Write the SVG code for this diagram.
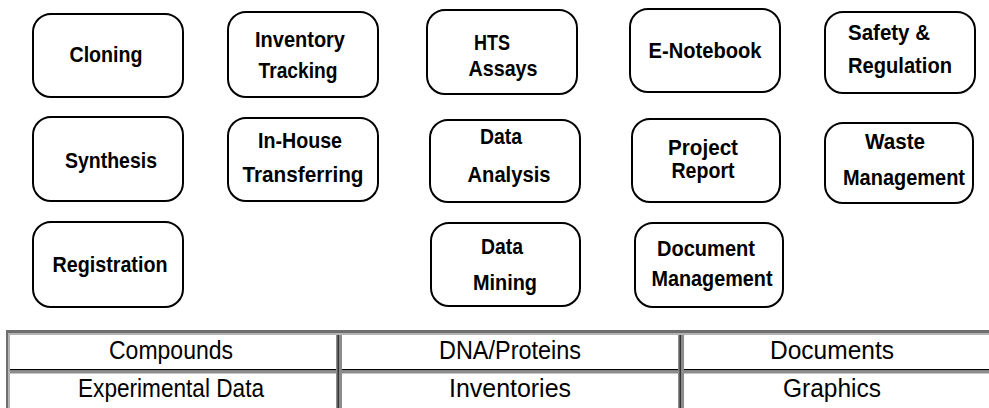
<svg xmlns="http://www.w3.org/2000/svg" width="989" height="408" viewBox="0 0 989 408">
<style>
.box{fill:#fff;stroke:#000;stroke-width:2}
.lbl{font-family:"Liberation Sans",Arial,sans-serif;font-weight:bold;font-size:22px;fill:#000;text-anchor:middle}
.cell{font-family:"Liberation Sans",Arial,sans-serif;font-size:25px;fill:#000;text-anchor:middle}
.dk{fill:#6e6e6e}
.lt{fill:#b4b4b4}
.md{fill:#8c8c8c}
</style>
<rect width="989" height="408" fill="#fff"/>
<g id="cloning"><rect class="box" x="33" y="14" width="150" height="83" rx="18"/><text class="lbl" x="106" y="62" textLength="73" lengthAdjust="spacingAndGlyphs">Cloning</text></g>
<g id="inventory-tracking"><rect class="box" x="228" y="12" width="150" height="85" rx="18"/><text class="lbl" x="300" y="47" textLength="90" lengthAdjust="spacingAndGlyphs">Inventory</text><text class="lbl" x="298" y="78" textLength="79" lengthAdjust="spacingAndGlyphs">Tracking</text></g>
<g id="hts-assays"><rect class="box" x="427" y="10" width="150" height="84" rx="18"/><text class="lbl" x="492" y="50" textLength="36" lengthAdjust="spacingAndGlyphs">HTS</text><text class="lbl" x="503" y="76" textLength="69" lengthAdjust="spacingAndGlyphs">Assays</text></g>
<g id="e-notebook"><rect class="box" x="630" y="9" width="150" height="83" rx="18"/><text class="lbl" x="705" y="58" textLength="113" lengthAdjust="spacingAndGlyphs">E-Notebook</text></g>
<g id="safety-regulation"><rect class="box" x="825" y="12" width="150" height="81" rx="18"/><text class="lbl" x="889" y="40" textLength="82" lengthAdjust="spacingAndGlyphs">Safety &amp;</text><text class="lbl" x="900" y="73" textLength="104" lengthAdjust="spacingAndGlyphs">Regulation</text></g>
<g id="synthesis"><rect class="box" x="33" y="117" width="150" height="84" rx="18"/><text class="lbl" x="111" y="168" textLength="92" lengthAdjust="spacingAndGlyphs">Synthesis</text></g>
<g id="in-house-transferring"><rect class="box" x="228" y="118" width="150" height="83" rx="18"/><text class="lbl" x="300" y="148" textLength="84" lengthAdjust="spacingAndGlyphs">In-House</text><text class="lbl" x="303" y="182" textLength="121" lengthAdjust="spacingAndGlyphs">Transferring</text></g>
<g id="data-analysis"><rect class="box" x="430" y="120" width="150" height="82" rx="18"/><text class="lbl" x="501" y="144" textLength="42" lengthAdjust="spacingAndGlyphs">Data</text><text class="lbl" x="509" y="182" textLength="83" lengthAdjust="spacingAndGlyphs">Analysis</text></g>
<g id="project-report"><rect class="box" x="632" y="119" width="148" height="83" rx="18"/><text class="lbl" x="703" y="155" textLength="70" lengthAdjust="spacingAndGlyphs">Project</text><text class="lbl" x="703" y="178" textLength="63" lengthAdjust="spacingAndGlyphs">Report</text></g>
<g id="waste-management"><rect class="box" x="825" y="123" width="148" height="80" rx="18"/><text class="lbl" x="895" y="149" textLength="60" lengthAdjust="spacingAndGlyphs">Waste</text><text class="lbl" x="904" y="185" textLength="122" lengthAdjust="spacingAndGlyphs">Management</text></g>
<g id="registration"><rect class="box" x="33" y="222" width="150" height="85" rx="18"/><text class="lbl" x="110" y="272" textLength="115" lengthAdjust="spacingAndGlyphs">Registration</text></g>
<g id="data-mining"><rect class="box" x="431" y="223" width="149" height="83" rx="18"/><text class="lbl" x="502" y="254" textLength="42" lengthAdjust="spacingAndGlyphs">Data</text><text class="lbl" x="505" y="290" textLength="64" lengthAdjust="spacingAndGlyphs">Mining</text></g>
<g id="document-management"><rect class="box" x="635" y="223" width="148" height="84" rx="18"/><text class="lbl" x="706" y="256" textLength="98" lengthAdjust="spacingAndGlyphs">Document</text><text class="lbl" x="712" y="286" textLength="121" lengthAdjust="spacingAndGlyphs">Management</text></g>
<g id="connectors"></g>
<g id="table">
<rect class="dk" x="6" y="330" width="983" height="3"/>
<rect class="lt" x="8" y="333" width="981" height="2"/>
<rect class="dk" x="6" y="330" width="2" height="78"/>
<rect class="lt" x="8" y="333" width="2" height="75"/>
<rect fill="#000" x="10" y="369" width="979" height="1.5"/>
<rect class="md" x="10" y="370.5" width="979" height="3"/>
<rect class="md" x="336" y="335" width="6" height="73"/>
<rect fill="#333" x="337.5" y="335" width="1.5" height="73"/>
<rect class="md" x="678" y="335" width="6" height="73"/>
<rect fill="#333" x="679.5" y="335" width="1.5" height="73"/>
<text class="cell" x="171" y="359" textLength="124" lengthAdjust="spacingAndGlyphs">Compounds</text>
<text class="cell" x="510" y="359" textLength="142" lengthAdjust="spacingAndGlyphs">DNA/Proteins</text>
<text class="cell" x="832" y="359" textLength="124" lengthAdjust="spacingAndGlyphs">Documents</text>
<text class="cell" x="171" y="397" textLength="186" lengthAdjust="spacingAndGlyphs">Experimental Data</text>
<text class="cell" x="510" y="397" textLength="122" lengthAdjust="spacingAndGlyphs">Inventories</text>
<text class="cell" x="832" y="397" textLength="98" lengthAdjust="spacingAndGlyphs">Graphics</text>
</g>
</svg>
